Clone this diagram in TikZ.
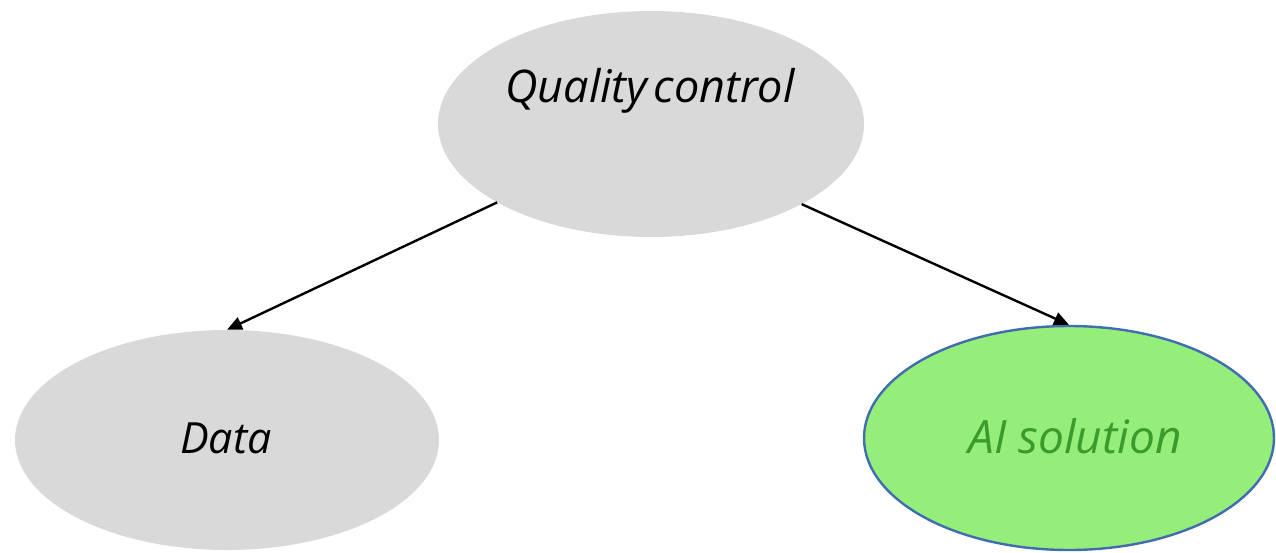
\documentclass[tikz,border=0pt]{standalone}
\usepackage{fontspec}
\setmainfont{Open Sans}
\usetikzlibrary{shapes.geometric,arrows.meta}
\definecolor{greyfill}{HTML}{D9D9D9}
\definecolor{aifill}{HTML}{95ED7A}
\definecolor{aiborder}{HTML}{3F6DB0}
\definecolor{aitext}{HTML}{3B9A2C}
\tikzset{
  oval/.style={ellipse, inner sep=0pt, fill=greyfill, draw=none},
  lbl/.style={font=\fontsize{#1}{50}\selectfont\itshape},
  conn/.style={-{Triangle[length=15pt,width=13pt]}, line width=2.4pt, black}
}
\begin{document}
\begin{tikzpicture}[x=1pt,y=-1pt]
\useasboundingbox (0,0) rectangle (1276,552);
\node[oval, minimum width=426pt, minimum height=226pt] (qc) at (651,124) {};
\node[lbl=45, anchor=base] (qct) at (650,102) {Quality\hspace{-0.12em} control};
\node[oval, minimum width=424pt, minimum height=220pt] (data) at (227,440) {};
\node[lbl=43, anchor=base] (datat) at (226,453) {Data};
\node[oval, fill=aifill, draw=aiborder, line width=2.4pt, minimum width=410pt, minimum height=224pt] (ai) at (1069,438) {};
\node[lbl=46, anchor=base, text=aitext] (ait) at (1075,453) {AI solution};
\draw[conn] (qc.207.9) -- (data.north);
\draw[conn] (qc.332.2) -- (ai.north);
\end{tikzpicture}
\end{document}
